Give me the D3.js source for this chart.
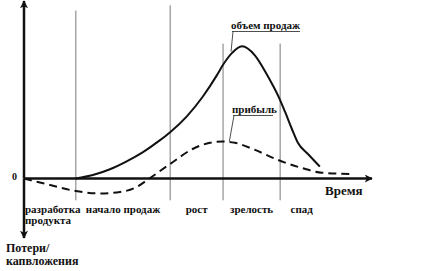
<!DOCTYPE html>
<html>
<head>
<meta charset="utf-8">
<script src="https://cdn.jsdelivr.net/npm/d3@7/dist/d3.min.js"></script>
<style>
  html, body { margin: 0; padding: 0; background: #fff; }
</style>
</head>
<body>
<svg id="chart" width="443" height="271"></svg>
<script>
// Product life cycle: time (arbitrary units) vs. value (arbitrary units)
const stageBounds = [1.49, 4.2, 5.72, 7.36];          // start of each phase after development
const stageTops = [127, 131, 102, 102];               // how high each divider rises
const stageNames = [["разработка", "продукта"], ["начало продаж"], ["рост"], ["зрелость"], ["спад"]];
const lastStageEnd = 8.6;

const salesT = [1.49, 1.98, 2.47, 2.95, 3.42, 3.91, 4.2, 4.68, 5.14, 5.54, 5.72, 5.98, 6.26, 6.64, 6.93, 7.16, 7.33, 7.5, 7.69, 7.87, 8.16, 8.5];
const salesV = [0, 2.6, 7, 13, 20, 29, 35, 47, 62, 78, 86, 95, 100, 93, 81, 70, 61, 50.5, 38, 27, 18.5, 9];

const profitT = [0, 0.75, 1.49, 2.18, 2.76, 3.24, 3.52, 4.2, 4.86, 5.34, 5.72, 6.06, 6.64, 7.3, 7.99, 8.56, 9.37];
const profitV = [0, -4.9, -9.5, -11.3, -10.2, -6.4, -1.5, 11, 22.5, 27, 28, 27, 21.6, 14, 7.9, 4.4, 3.4];

const salesLabel = "объем продаж";
const profitLabel = "прибыль";
const xTitle = "Время";
const yTitle = ["Потери/", "капвложения"];
const zeroLabel = "0";

const FONT = "'Liberation Serif', 'Times New Roman', serif";

const svg = d3.select("#chart");
const x = d3.scaleLinear().domain([0, 10]).range([24, 372]);
const y = d3.scaleLinear().domain([-45, 135]).range([238, 0]);

// arrowhead
svg.append("defs").append("marker")
  .attr("id", "arrow").attr("viewBox", "0 0 10 10")
  .attr("refX", 9).attr("refY", 5)
  .attr("markerWidth", 11).attr("markerHeight", 8)
  .attr("markerUnits", "userSpaceOnUse")
  .attr("orient", "auto")
  .append("path").attr("d", "M0,0 L10,5 L0,10 L2.5,5 Z").attr("fill", "#111");

// phase dividers
svg.selectAll("line.divider").data(stageBounds).join("line")
  .attr("class", "divider")
  .attr("x1", d => x(d)).attr("x2", d => x(d))
  .attr("y1", (d, i) => y(stageTops[i])).attr("y2", y(-16.5))
  .attr("stroke", "#7a7a7a").attr("stroke-width", 1);

// axes
svg.append("line")
  .attr("x1", x(0)).attr("x2", x(10))
  .attr("y1", y(0)).attr("y2", y(0))
  .attr("stroke", "#111").attr("stroke-width", 2.5)
  .attr("marker-end", "url(#arrow)");
svg.append("line")
  .attr("x1", x(0)).attr("x2", x(0))
  .attr("y1", y(0)).attr("y2", y(135) + 1)
  .attr("stroke", "#111").attr("stroke-width", 2.5)
  .attr("marker-end", "url(#arrow)");
svg.append("line")
  .attr("x1", x(0)).attr("x2", x(0))
  .attr("y1", y(0)).attr("y2", y(-45))
  .attr("stroke", "#111").attr("stroke-width", 2.5)
  .attr("marker-end", "url(#arrow)");

const line = d3.line().x(d => x(d[0])).y(d => y(d[1])).curve(d3.curveMonotoneX);

svg.append("path")
  .datum(salesT.map((t, i) => [t, salesV[i]]))
  .attr("d", line).attr("fill", "none")
  .attr("stroke", "#111").attr("stroke-width", 2);

svg.append("path")
  .datum(profitT.map((t, i) => [t, profitV[i]]))
  .attr("d", line).attr("fill", "none")
  .attr("stroke", "#111").attr("stroke-width", 2)
  .attr("stroke-dasharray", "8,5");

function label(sel) {
  return sel.attr("font-family", FONT).attr("font-weight", "bold").attr("fill", "#111");
}

// curve labels with underline and leader
function callout(text, tx, ty, targetT, targetV, width) {
  label(svg.append("text")).attr("x", tx).attr("y", ty).attr("font-size", 11).text(text);
  svg.append("line").attr("x1", tx + 1).attr("x2", tx + width)
    .attr("y1", ty + 2.5).attr("y2", ty + 2.5)
    .attr("stroke", "#222").attr("stroke-width", 0.8);
  svg.append("line").attr("x1", tx + 2).attr("y1", ty + 2.5)
    .attr("x2", x(targetT)).attr("y2", y(targetV))
    .attr("stroke", "#222").attr("stroke-width", 0.8);
}
callout(salesLabel, 231, 29, 5.95, 96, 69);
callout(profitLabel, 232, 113, 5.9, 28, 41);

// zero label
label(svg.append("text")).attr("x", 17).attr("y", y(0) + 1)
  .attr("text-anchor", "end").attr("font-size", 10).text(zeroLabel);

// time label
label(svg.append("text")).attr("x", 325).attr("y", 195).attr("font-size", 13).text(xTitle);

// y title (below axis)
label(svg.append("text")).attr("x", 6).attr("font-size", 12)
  .selectAll("tspan").data(yTitle).join("tspan")
  .attr("x", 6).attr("y", (d, i) => 252 + i * 13).text(d => d);

// phase labels
const edges = [0, ...stageBounds, lastStageEnd];
stageNames.forEach((lines, i) => {
  const first = i === 0;
  const cx = first ? x(0) + 1 : x((edges[i] + edges[i + 1]) / 2);
  label(svg.append("text"))
    .attr("x", cx).attr("font-size", 11)
    .attr("text-anchor", first ? "start" : "middle")
    .selectAll("tspan").data(lines).join("tspan")
    .attr("x", cx).attr("y", (d, j) => 213 + j * 10.5).text(d => d);
});
</script>
</body>
</html>
